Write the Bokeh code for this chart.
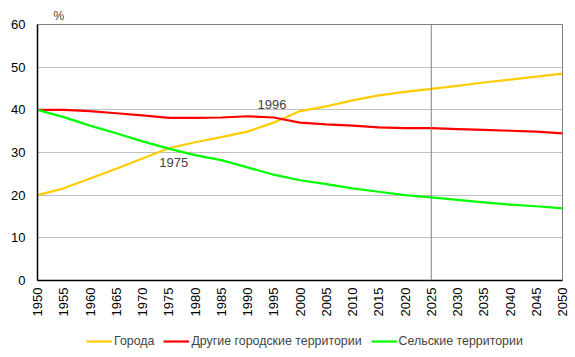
from bokeh.plotting import figure
from bokeh.layouts import column
from bokeh.models import Legend, LegendItem, Span, Label, FixedTicker, ColumnDataSource
from bokeh.embed import file_html
from bokeh.resources import INLINE
import math

years = list(range(1950, 2051, 5))
cities = [20.0, 21.6, 23.9, 26.2, 28.6, 31.0, 32.4, 33.6, 34.9, 37.0, 39.7,
          40.8, 42.2, 43.4, 44.2, 44.9, 45.6, 46.4, 47.1, 47.8, 48.5]
other_urban = [40.0, 40.0, 39.7, 39.2, 38.7, 38.1, 38.1, 38.2, 38.5, 38.2, 37.0,
               36.6, 36.3, 35.9, 35.7, 35.7, 35.5, 35.3, 35.1, 34.9, 34.5]
rural = [40.0, 38.3, 36.3, 34.5, 32.6, 30.9, 29.4, 28.2, 26.5, 24.8, 23.5,
         22.6, 21.6, 20.8, 20.0, 19.5, 18.9, 18.3, 17.8, 17.4, 16.9]
series_names = ["Города", "Другие городские территории", "Сельские территории"]
colors = ["#FFCC00", "#FF0000", "#00FF00"]
y_ticks = [0, 10, 20, 30, 40, 50, 60]

FONT = "Liberation Sans"

p = figure(width=570, height=322, output_backend="svg", toolbar_location=None,
           x_range=(1950, 2050), y_range=(0, 60),
           min_border_left=37, min_border_right=8, min_border_top=24, min_border_bottom=42,
           title="%")
p.title.align = "left"
p.title.offset = 16
p.title.text_font = FONT
p.title.text_font_size = "12px"
p.title.text_font_style = "normal"
p.title.standoff = 4
p.background_fill_color = "white"
p.border_fill_color = "white"
p.outline_line_color = "#808080"
p.outline_line_width = 1

p.xgrid.visible = False
p.ygrid.grid_line_color = "#C0C0C0"
p.ygrid.grid_line_width = 1
p.ygrid.ticker = FixedTicker(ticks=y_ticks)

p.xaxis.ticker = FixedTicker(ticks=years)
p.xaxis.major_label_orientation = math.pi / 2
p.yaxis.ticker = FixedTicker(ticks=y_ticks)
for ax in (p.xaxis, p.yaxis):
    ax.axis_line_color = "black"
    ax.axis_line_width = 1.5
    ax.major_tick_line_color = None
    ax.minor_tick_line_color = None
    ax.major_label_text_font = FONT
    ax.major_label_text_font_size = "13px"
    ax.major_label_text_color = "black"
p.xaxis.major_label_standoff = 1
p.yaxis.major_label_standoff = 6

p.add_layout(Span(location=2025, dimension="height", line_color="#808080", line_width=1))

all_series = [cities, other_urban, rural]
for vals, c in zip(all_series, colors):
    src = ColumnDataSource(dict(x=years, y=vals))
    p.line("x", "y", source=src, line_color=c, line_width=2.2)

# annotations
lab1 = Label(x=1975, y=cities[5], text="1975", text_font=FONT, text_font_size="13px",
             text_align="center", text_baseline="top", x_offset=5, y_offset=-10)
p.add_layout(lab1)
idx96 = years.index(1995)
lab2 = Label(x=1996, y=other_urban[idx96], text="1996", text_font=FONT, text_font_size="13px",
             text_align="center", text_baseline="bottom", x_offset=-7, y_offset=9)
p.add_layout(lab2)

# legend strip (its lines lie outside its own visible range; only the legend shows)
lf = figure(width=570, height=30, output_backend="svg", toolbar_location=None,
            x_range=(0, 1), y_range=(0, 1), min_border=0,
            x_axis_location=None, y_axis_location=None)
lf.grid.visible = False
lf.outline_line_color = None
lf.background_fill_color = "white"
lf.border_fill_color = "white"
leg_renderers = []
for vals, c in zip(all_series, colors):
    leg_renderers.append(lf.line(x=years, y=vals, line_color=c, line_width=2.2))
legend = Legend(items=[LegendItem(label=n, renderers=[r]) for n, r in zip(series_names, leg_renderers)],
                orientation="horizontal", border_line_color=None, background_fill_alpha=0,
                label_text_font=FONT, label_text_font_size="12.4px",
                glyph_width=26, glyph_height=12, label_standoff=2, spacing=9,
                padding=0, margin=0, location=(49, 4))
lf.add_layout(legend, "center")

open("out.html", "w").write(file_html(column(p, lf, spacing=0), INLINE))
